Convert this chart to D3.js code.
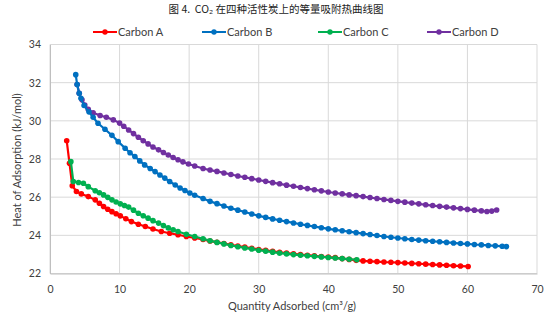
<!DOCTYPE html>
<html><head><meta charset="utf-8">
<script src="https://cdn.jsdelivr.net/npm/d3@7/dist/d3.min.js"></script>
<style>body{margin:0;background:#fff}svg{display:block}</style>
</head><body><svg id="c" width="554" height="326"></svg>
<script>
const title = "图 4.  CO\u2082 在四种活性炭上的等量吸附热曲线图";
const seriesNames = ["Carbon A","Carbon B","Carbon C","Carbon D"];
const seriesColors = ["#FF0000","#0070C0","#00B050","#7030A0"];
const xTicks = [0,10,20,30,40,50,60,70];
const yTicks = [22,24,26,28,30,32,34];
const xLabel = "Quantity Adsorbed (cm\u00B3/g)";
const yLabel = "Heat of Adsorption (kJ/mol)";

const carbonA = [[2.4,28.96],[2.8,27.78],[3.2,26.6],[3.8,26.3],[4.5,26.17],[5.5,26.03],[6.5,25.86],[7.1,25.68],[7.7,25.51],[8.3,25.37],[8.9,25.24],[9.5,25.13],[10.1,25.02],[10.9,24.87],[11.7,24.72],[12.7,24.58],[13.7,24.46],[14.8,24.33],[16.0,24.2],[17.2,24.11],[18.4,24.03],[19.6,23.94],[20.8,23.86],[22,23.78],[23,23.7],[24,23.64],[25,23.57],[26,23.5],[27,23.44],[28,23.38],[29,23.32],[30,23.26],[31,23.21],[32,23.16],[33,23.11],[34,23.07],[35,23.03],[36,22.99],[37,22.96],[38,22.93],[39,22.89],[40,22.86],[41,22.83],[42,22.78],[43,22.74],[44,22.69],[45,22.66],[46,22.64],[47,22.62],[48,22.6],[49,22.59],[50,22.57],[51,22.55],[52,22.53],[53,22.51],[54,22.49],[55,22.47],[56,22.45],[57,22.43],[58,22.41],[59,22.39],[60.1,22.37]];
const carbonB = [[3.7,32.42],[3.9,31.9],[4.2,31.44],[4.45,31.18],[4.9,30.8],[5.6,30.47],[6.2,30.19],[6.9,29.87],[7.9,29.56],[8.9,29.24],[9.8,28.91],[10.8,28.56],[11.5,28.33],[12.2,28.13],[12.9,27.9],[13.6,27.69],[14.4,27.5],[15.1,27.34],[15.8,27.16],[16.5,27.0],[17.2,26.82],[18.0,26.64],[18.7,26.48],[19.4,26.35],[20.1,26.22],[20.8,26.1],[22,25.93],[23,25.78],[24,25.66],[25,25.54],[26,25.42],[27,25.32],[28,25.22],[29,25.12],[30,25.02],[31,24.94],[32,24.86],[33,24.79],[34,24.72],[35,24.65],[36,24.58],[37,24.52],[38,24.46],[39,24.4],[40,24.34],[41,24.29],[42,24.24],[43,24.19],[44,24.14],[45,24.09],[46,24.04],[47,23.99],[48,23.94],[49,23.9],[50,23.86],[51,23.82],[52,23.78],[53,23.75],[54,23.72],[55,23.69],[56,23.66],[57,23.63],[58,23.6],[59,23.57],[60,23.55],[61,23.52],[62,23.5],[63,23.47],[64,23.45],[65,23.43],[65.6,23.41]];
const carbonC = [[3.0,27.86],[3.35,26.82],[4.1,26.77],[4.8,26.73],[5.5,26.55],[6.5,26.34],[7.1,26.23],[7.7,26.12],[8.3,25.99],[8.9,25.86],[9.5,25.75],[10.1,25.65],[10.7,25.56],[11.3,25.48],[12.0,25.32],[12.7,25.16],[13.4,25.03],[14.1,24.9],[14.8,24.77],[15.6,24.64],[16.3,24.51],[17.0,24.39],[17.7,24.29],[18.4,24.2],[19.6,24.06],[20.8,23.94],[22,23.82],[23,23.72],[24,23.63],[25,23.55],[26,23.47],[27,23.4],[28,23.34],[29,23.28],[30,23.22],[31,23.17],[32,23.12],[33,23.07],[34,23.03],[35,22.99],[36,22.96],[37,22.93],[38,22.9],[39,22.87],[40,22.84],[41,22.81],[42,22.78],[43,22.75],[44.1,22.72]];
const carbonD = [[3.9,31.9],[4.2,31.44],[4.6,31.1],[5.0,30.83],[5.5,30.6],[6.2,30.42],[7.2,30.28],[8.1,30.19],[9.1,30.05],[10.0,29.88],[10.6,29.72],[11.3,29.52],[12.0,29.33],[12.7,29.14],[13.4,28.96],[14.1,28.79],[14.8,28.63],[15.6,28.48],[16.3,28.34],[17.0,28.21],[17.7,28.08],[18.4,27.96],[19.1,27.85],[19.9,27.74],[20.8,27.63],[22,27.5],[23,27.42],[24,27.35],[25,27.27],[26,27.19],[27,27.11],[28,27.04],[29,26.97],[30,26.9],[31,26.83],[32,26.76],[33,26.7],[34,26.63],[35,26.57],[36,26.51],[37,26.45],[38,26.39],[39,26.33],[40,26.27],[41,26.22],[42,26.17],[43,26.12],[44,26.08],[45,26.03],[46,25.98],[47,25.93],[48,25.88],[49,25.83],[50,25.78],[51,25.74],[52,25.69],[53,25.65],[54,25.6],[55,25.56],[56,25.52],[57,25.48],[58,25.44],[59,25.4],[60,25.36],[61,25.32],[62,25.28],[62.8,25.25],[63.5,25.27],[64.2,25.33]];
const seriesData = [carbonA, carbonB, carbonC, carbonD];

const svg = d3.select("#c");
const m = {l:50, r:17, t:44.5, b:52.5};
const W = 554, H = 326;
const x = d3.scaleLinear().domain([0,70]).range([m.l, W-m.r]);
const y = d3.scaleLinear().domain([22,34]).range([H-m.b, m.t]);
const font = "Lato, 'Open Sans', sans-serif";
const grey = "#404040";

svg.append("text").attr("x",276).attr("y",13).attr("text-anchor","middle")
  .style("white-space","pre")
  .attr("font-family","'Noto Sans CJK SC', sans-serif").attr("font-size",10.5)
  .attr("fill","#222").text(title);

// gridlines
const g = svg.append("g");
g.selectAll(".gy").data(yTicks).join("line")
  .attr("x1",x(0)).attr("x2",x(70)).attr("y1",d=>y(d)).attr("y2",d=>y(d))
  .attr("stroke","#D9D9D9").attr("stroke-width",1);
g.selectAll(".gx").data(xTicks).join("line")
  .attr("y1",y(22)).attr("y2",y(34)).attr("x1",d=>x(d)).attr("x2",d=>x(d))
  .attr("stroke","#D9D9D9").attr("stroke-width",1);

// axes
const xa = svg.append("g").attr("transform",`translate(0,${y(22)})`)
  .call(d3.axisBottom(x).tickValues(xTicks).tickSize(0).tickPadding(12));
const ya = svg.append("g").attr("transform",`translate(${x(0)},0)`)
  .call(d3.axisLeft(y).tickValues(yTicks).tickSize(0).tickPadding(9));
[xa,ya].forEach(a=>{
  a.select(".domain").attr("stroke","#BFBFBF");
  a.selectAll("text").attr("font-family",font).attr("font-size",10.5).attr("fill",grey);
});

svg.append("text").attr("x",292).attr("y",310).attr("text-anchor","middle")
  .attr("font-family",font).attr("font-size",11).attr("fill","#404040").text(xLabel);
svg.append("text").attr("transform","translate(21,160) rotate(-90)").attr("text-anchor","middle")
  .attr("font-family",font).attr("font-size",11).attr("fill","#404040").text(yLabel);

// series
const line = d3.line().x(d=>x(d[0])).y(d=>y(d[1]));
const order = [3,1,0,2];
order.forEach(i=>{
  const sg = svg.append("g");
  sg.append("path").datum(seriesData[i]).attr("d",line).attr("fill","none")
    .attr("stroke",seriesColors[i]).attr("stroke-width",2.2);
  sg.selectAll("circle").data(seriesData[i]).join("circle")
    .attr("cx",d=>x(d[0])).attr("cy",d=>y(d[1])).attr("r",2.8)
    .attr("fill",seriesColors[i]);
});

// legend
const legX = [93,202,318,427];
seriesNames.forEach((n,i)=>{
  const lg = svg.append("g").attr("transform",`translate(${legX[i]},32)`);
  lg.append("line").attr("x1",0).attr("x2",24).attr("stroke",seriesColors[i]).attr("stroke-width",2);
  lg.append("circle").attr("cx",12).attr("r",2.7).attr("fill",seriesColors[i]);
  lg.append("text").attr("x",25).attr("y",4).attr("font-family",font).attr("font-size",11)
    .attr("fill","#404040").text(n);
});
</script></body></html>
